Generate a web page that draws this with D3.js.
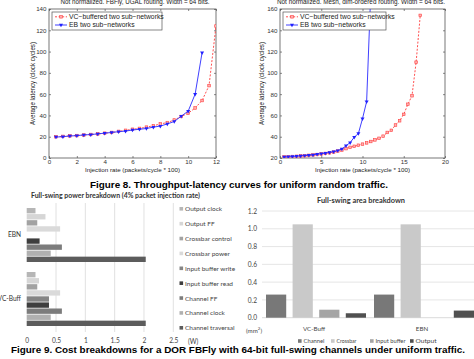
<!DOCTYPE html>
<html><head><meta charset="utf-8">
<script src="https://cdn.jsdelivr.net/npm/d3@7"></script>
<style>body{margin:0;background:#fff}svg{display:block}</style>
</head><body>
<svg id="c" width="474" height="359"></svg>
<script>
// ---------- Data ----------
const fbflyTitle = "Not normalized. FBFly, UGAL routing. Width = 64 bits.";
const meshTitle = "Not normalized. Mesh, dim-ordered routing. Width = 64 bits.";
const seriesNames = ["VC\u2212buffered two sub\u2212networks", "EB two sub\u2212networks"];

const fbflyRatesVC = [0.5,1,1.5,2,2.5,3,3.5,4,4.5,5,5.5,6,6.5,7,7.5,8,8.5,9,9.5,10,10.5,11,11.5,12];
const fbflyVC = [20,20.3,20.8,21.1,21.6,22.1,22.6,23.3,24,25,26,27,27.8,29,30.3,32,33.3,35.7,39,42,47,54,68,124];
const fbflyRatesEB = [0.5,1,1.5,2,2.5,3,3.5,4,4.5,5,5.5,6,6.5,7,7.5,8,8.5,9,9.5,10,10.5,11];
const fbflyEB = [19.7,20,20.7,21,21.7,22,22.7,23.3,24,24.7,25.3,26.3,27,27.7,29,30,32,34.3,39.3,44,60,99];
const fbflyXTicks = [0,2,4,6,8,10,12];
const fbflyYTicks = [0,20,40,60,80,100,120,140];

const meshRatesVC = [0.5,1,1.5,2,2.5,3,3.5,4,4.5,5,5.5,6,6.5,7,7.5,8,8.5,9,9.5,10,10.5,11,11.5,12,12.5,13,13.5,14,14.5,15,15.5,16,16.5,17];
const meshVC = [21,21.2,21.4,21.6,21.9,22.2,22.5,22.9,23.3,23.8,24.3,24.9,25.6,26.5,27.5,28.8,30,31,32,33,34.2,35.5,37,38.5,40.5,44,46,51,55,61,70.5,78.5,110,154];
const meshRatesEB = [0.5,1,1.5,2,2.5,3,3.5,4,4.5,5,5.5,6,6.5,7,7.5,8,8.5,9,9.5,10,10.5,11];
const meshEB = [21,21.2,21.4,21.7,22,22.3,22.6,23,23.5,24,24.6,25.3,26,27,28.5,31.5,34.5,39.5,43,57,73,175];
const meshXTicks = [0,5,10,15,20];
const meshYTicks = [20,40,60,80,100,120,140,160];

const powerTitle = "Full-swing power breakdown (4% packet injection rate)";
const powerCategories = ["EBN","VC-Buff"];
const powerComponents = ["Output clock","Output FF","Crossbar control","Crossbar power","Input buffer write","Input buffer read","Channel FF","Channel clock","Channel traversal"];
const powerEBN = [0.15,0.32,0.18,0.57,0,0.22,0.6,0.41,2.03];
const powerVC = [0.15,0.21,0.18,0.57,0.38,0.38,0.6,0.41,2.03];
const powerTicks = [0,0.5,1,1.5,2,2.5];
const powerColors = ["#b6b6b6","#d6d6d6","#a2a2a2","#dadada","#858585","#3e3e3e","#7c7c7c","#b0b0b0","#5c5c5c"];

const areaTitle = "Full-swing area breakdown";
const areaCategories = ["VC-Buff","EBN"];
const areaComponents = ["Channel","Crossbar","Input buffer","Output"];
const areaVC = [0.26,1.05,0.09,0.05];
const areaEBN = [0.26,1.05,0,0.08];
const areaTicks = [0,0.2,0.4,0.6,0.8,1.0,1.2];
const areaColors = ["#787878","#c9c9c9","#a5a5a5","#505050"];

const caption8 = "Figure 8. Throughput-latency curves for uniform random traffic.";
const caption9 = "Figure 9. Cost breakdowns for a DOR FBFly with 64-bit full-swing channels under uniform traffic.";

// ---------- Drawing ----------
const svg = d3.select("#c");
const MF = "'Liberation Sans', Arial, sans-serif";
const XF = "Lato, 'Open Sans', sans-serif";

function fitText(t, w) {
  t.attr("textLength", w).attr("lengthAdjust", "spacingAndGlyphs");
}

function lineChart(cfg) {
  const g = svg.append("g");
  const x = d3.scaleLinear().domain(cfg.xDomain).range([cfg.x0, cfg.x1]);
  const y = d3.scaleLinear().domain(cfg.yDomain).range([cfg.y1, cfg.y0]);
  const id = "clip" + cfg.id;
  svg.append("clipPath").attr("id", id).append("rect")
    .attr("x", cfg.x0).attr("y", cfg.y0).attr("width", cfg.x1 - cfg.x0).attr("height", cfg.y1 - cfg.y0);
  g.append("rect").attr("x", cfg.x0).attr("y", cfg.y0).attr("width", cfg.x1 - cfg.x0).attr("height", cfg.y1 - cfg.y0)
    .attr("fill", "#fff").attr("stroke", "#555").attr("stroke-width", 0.8);

  const styleAx = a => { a.select(".domain").remove(); a.selectAll("line").attr("stroke", "#555").attr("stroke-width", 0.7);
    a.selectAll("text").attr("font-family", MF).attr("font-size", 6.2).attr("fill", "#333"); };
  g.append("g").attr("transform", `translate(0,${cfg.y1})`)
    .call(d3.axisBottom(x).tickValues(cfg.xTicks).tickSize(-2).tickPadding(1.2).tickFormat(d3.format("d"))).call(styleAx);
  g.append("g").attr("transform", `translate(0,${cfg.y0})`)
    .call(d3.axisTop(x).tickValues(cfg.xTicks).tickSize(-2).tickFormat("")).call(styleAx);
  g.append("g").attr("transform", `translate(${cfg.x0},0)`)
    .call(d3.axisLeft(y).tickValues(cfg.yTicks).tickSize(-2).tickPadding(2.5).tickFormat(d3.format("d"))).call(styleAx);
  g.append("g").attr("transform", `translate(${cfg.x1},0)`)
    .call(d3.axisRight(y).tickValues(cfg.yTicks).tickSize(-2).tickFormat("")).call(styleAx);

  const pg = g.append("g").attr("clip-path", `url(#${id})`);
  const line = d3.line().x(d => x(d[0])).y(d => y(d[1]));
  const vc = cfg.vcX.map((v, i) => [v, cfg.vcY[i]]);
  const eb = cfg.ebX.map((v, i) => [v, cfg.ebY[i]]);
  pg.append("path").datum(vc).attr("d", line).attr("fill", "none").attr("stroke", "#ff3b3b")
    .attr("stroke-width", 0.9).attr("stroke-dasharray", "2,1.6");
  pg.selectAll(".vcm").data(vc).join("rect").attr("class", "vcm")
    .attr("x", d => x(d[0]) - 1.3).attr("y", d => y(d[1]) - 1.3).attr("width", 2.6).attr("height", 2.6)
    .attr("fill", "#ffb0b0").attr("stroke", "#ff4040").attr("stroke-width", 0.6);
  pg.append("path").datum(eb).attr("d", line).attr("fill", "none").attr("stroke", "#2a2aff").attr("stroke-width", 0.9);
  const tri = d3.symbol().type(d3.symbolTriangle).size(7);
  pg.selectAll(".ebm").data(eb).join("path").attr("class", "ebm")
    .attr("d", tri).attr("transform", d => `translate(${x(d[0])},${y(d[1])}) rotate(180)`)
    .attr("fill", "#2020ff");

  // legend
  const L = cfg.legend;
  g.append("rect").attr("x", L.x).attr("y", L.y).attr("width", L.w).attr("height", 18)
    .attr("fill", "#fff").attr("stroke", "#555").attr("stroke-width", 0.7);
  const ly = [L.y + 4.8, L.y + 13];
  g.append("line").attr("x1", L.x + 3).attr("x2", L.x + 15).attr("y1", ly[0]).attr("y2", ly[0])
    .attr("stroke", "#ff3b3b").attr("stroke-width", 0.9).attr("stroke-dasharray", "2,1.6");
  g.append("rect").attr("x", L.x + 7.7).attr("y", ly[0] - 1.3).attr("width", 2.6).attr("height", 2.6)
    .attr("fill", "#ffb0b0").attr("stroke", "#ff4040").attr("stroke-width", 0.6);
  g.append("line").attr("x1", L.x + 3).attr("x2", L.x + 15).attr("y1", ly[1]).attr("y2", ly[1])
    .attr("stroke", "#2a2aff").attr("stroke-width", 0.9);
  g.append("path").attr("d", tri).attr("transform", `translate(${L.x + 9},${ly[1]}) rotate(180)`).attr("fill", "#2020ff");
  seriesNames.forEach((s, i) => g.append("text").attr("x", L.x + 17).attr("y", ly[i] + 2.3)
    .attr("font-family", MF).attr("font-size", 6.8).attr("fill", "#222").text(s));

  // title & labels
  fitText(g.append("text").attr("x", cfg.titleX).attr("y", 4).attr("text-anchor", "middle")
    .attr("font-family", MF).attr("font-size", 6.6).attr("fill", "#222").text(cfg.title), cfg.titleW);
  fitText(g.append("text").attr("x", (cfg.x0 + cfg.x1) / 2).attr("y", 171.5).attr("text-anchor", "middle")
    .attr("font-family", MF).attr("font-size", 6.2).attr("fill", "#222").text("Injection rate (packets/cycle * 100)"), 95);
  fitText(g.append("text").attr("transform", `translate(${cfg.ylabX},${(cfg.y0 + cfg.y1) / 2}) rotate(-90)`)
    .attr("text-anchor", "middle").attr("font-family", MF).attr("font-size", 6.4).attr("fill", "#222")
    .text("Average latency (clock cycles)"), 83);
}

lineChart({ id: 1, x0: 49, x1: 216, y0: 9, y1: 158, xDomain: [0, 12], yDomain: [0, 140],
  xTicks: fbflyXTicks, yTicks: fbflyYTicks, vcX: fbflyRatesVC, vcY: fbflyVC, ebX: fbflyRatesEB, ebY: fbflyEB,
  legend: { x: 52, y: 12, w: 110 }, title: fbflyTitle, titleX: 135, titleW: 149, ylabX: 35 });
lineChart({ id: 2, x0: 280, x1: 445, y0: 9, y1: 158, xDomain: [0, 20], yDomain: [20, 160],
  xTicks: meshXTicks, yTicks: meshYTicks, vcX: meshRatesVC, vcY: meshVC, ebX: meshRatesEB, ebY: meshEB,
  legend: { x: 283, y: 12, w: 103 }, title: meshTitle, titleX: 361, titleW: 168, ylabX: 264 });

// ---------- Power breakdown (horizontal bars) ----------
{
  const g = svg.append("g");
  const x = d3.scaleLinear().domain([0, 2.5]).range([26.7, 173.3]);
  const y = d3.scaleBand().domain(powerCategories).range([203, 331]);
  const yi = d3.scaleBand().domain(powerComponents).range([5, y.bandwidth() - 5]).paddingInner(0.12);
  g.selectAll(".gl").data(powerTicks.filter(d => d > 0)).join("line")
    .attr("x1", d => x(d)).attr("x2", d => x(d)).attr("y1", 203).attr("y2", 332)
    .attr("stroke", "#d9d9d9").attr("stroke-width", 0.8);
  const vals = { "EBN": powerEBN, "VC-Buff": powerVC };
  powerCategories.forEach(c => {
    g.selectAll(null).data(powerComponents).join("rect")
      .attr("x", x(0)).attr("y", d => y(c) + yi(d)).attr("height", yi.bandwidth())
      .attr("width", (d, i) => x(vals[c][i]) - x(0)).attr("fill", (d, i) => powerColors[i]);
  });
  g.append("g").attr("transform", "translate(0,332)")
    .call(d3.axisBottom(x).tickValues(powerTicks).tickSize(0).tickPadding(6.5).tickFormat(d => d3.format("")(d)))
    .call(a => { a.select(".domain").remove(); a.selectAll("text").attr("font-family", XF).attr("font-size", 6.6).attr("fill", "#444"); });
  g.append("text").attr("x", 188).attr("y", 344).attr("font-family", XF).attr("font-size", 6.6).attr("fill", "#444").text("(W)");
  g.selectAll(".cl").data(powerCategories).join("text")
    .attr("x", 21).attr("y", d => y(d) + y.bandwidth() / 2 + 2.3).attr("text-anchor", "end")
    .attr("font-family", XF).attr("font-size", 6.6).attr("fill", "#333").text(d => d);
  const ly = d3.scalePoint().domain(powerComponents).range([209, 328]);
  g.selectAll(".lr").data(powerComponents).join("rect")
    .attr("x", 179.5).attr("y", d => ly(d) - 2).attr("width", 3.6).attr("height", 3.6)
    .attr("fill", (d, i) => powerColors[i]);
  g.selectAll(".lt").data(powerComponents).join("text")
    .attr("x", 185).attr("y", d => ly(d) + 2.3).attr("font-family", XF).attr("font-size", 6.5).attr("fill", "#444").text(d => d);
  g.append("text").attr("x", 31).attr("y", 197.5).attr("font-family", XF).attr("font-weight", "bold")
    .attr("font-size", 6.8).attr("fill", "#333").text(powerTitle).call(t => fitText(t, 169));
}

// ---------- Area breakdown (vertical bars) ----------
{
  const g = svg.append("g");
  const y = d3.scaleLinear().domain([0, 1.2]).range([317.7, 211]);
  const x = d3.scaleBand().domain(areaCategories).range([262, 478]);
  const xi = d3.scaleBand().domain(areaComponents).range([4, x.bandwidth() - 4]).paddingInner(0.24);
  g.selectAll(".gl").data(areaTicks).join("line")
    .attr("x1", 262).attr("x2", 478).attr("y1", d => y(d)).attr("y2", d => y(d))
    .attr("stroke", d => d === 0 ? "#cfcfcf" : "#e0e0e0").attr("stroke-width", 0.8);
  const vals = { "VC-Buff": areaVC, "EBN": areaEBN };
  areaCategories.forEach(c => {
    g.selectAll(null).data(areaComponents).join("rect")
      .attr("x", d => x(c) + xi(d)).attr("width", xi.bandwidth())
      .attr("y", (d, i) => y(vals[c][i])).attr("height", (d, i) => y(0) - y(vals[c][i]))
      .attr("fill", (d, i) => areaColors[i]);
  });
  g.append("g").attr("transform", "translate(257,0)")
    .call(d3.axisLeft(y).tickValues(areaTicks).tickSize(0).tickPadding(0).tickFormat(d3.format(".1f")))
    .call(a => { a.select(".domain").remove(); a.selectAll("text").attr("font-family", XF).attr("font-size", 6.6).attr("fill", "#444"); });
  g.selectAll(".cl").data(areaCategories).join("text")
    .attr("x", d => x(d) + x.bandwidth() / 2 - 2).attr("y", 330.5).attr("text-anchor", "middle")
    .attr("font-family", XF).attr("font-size", 6.2).attr("fill", "#444").text(d => d);
  const mm = g.append("text").attr("x", 254).attr("y", 332.5).attr("text-anchor", "middle")
    .attr("font-family", XF).attr("font-size", 6.2).attr("fill", "#444");
  mm.append("tspan").text("(mm");
  mm.append("tspan").attr("font-size", 4.5).attr("dy", -2.5).text("2");
  mm.append("tspan").attr("dy", 2.5).text(")");
  const lx = [298, 331, 370, 410];
  const lw = [21, 20, 30, 21];
  areaComponents.forEach((d, i) => {
    g.append("rect").attr("x", lx[i]).attr("y", 339.2).attr("width", 3.6).attr("height", 3.6).attr("fill", areaColors[i]);
    g.append("text").attr("x", lx[i] + 5.5).attr("y", 343.4).attr("font-family", XF).attr("font-size", 6.2)
      .attr("fill", "#444").text(d).call(t => fitText(t, lw[i]));
  });
  g.append("text").attr("x", 361).attr("y", 202.5).attr("text-anchor", "middle").attr("font-family", XF)
    .attr("font-weight", "bold").attr("font-size", 6.8).attr("fill", "#333").text(areaTitle).call(t => fitText(t, 88));
}

// ---------- Captions ----------
fitText(svg.append("text").attr("x", 239).attr("y", 187.5).attr("text-anchor", "middle")
  .attr("font-family", "'Liberation Sans', Arial, sans-serif").attr("font-weight", "bold").attr("font-size", 9.6)
  .attr("fill", "#000").text(caption8), 298);
fitText(svg.append("text").attr("x", 238).attr("y", 353).attr("text-anchor", "middle")
  .attr("font-family", "'Liberation Sans', Arial, sans-serif").attr("font-weight", "bold").attr("font-size", 9.4)
  .attr("fill", "#000").text(caption9), 454);
</script>
</body></html>
